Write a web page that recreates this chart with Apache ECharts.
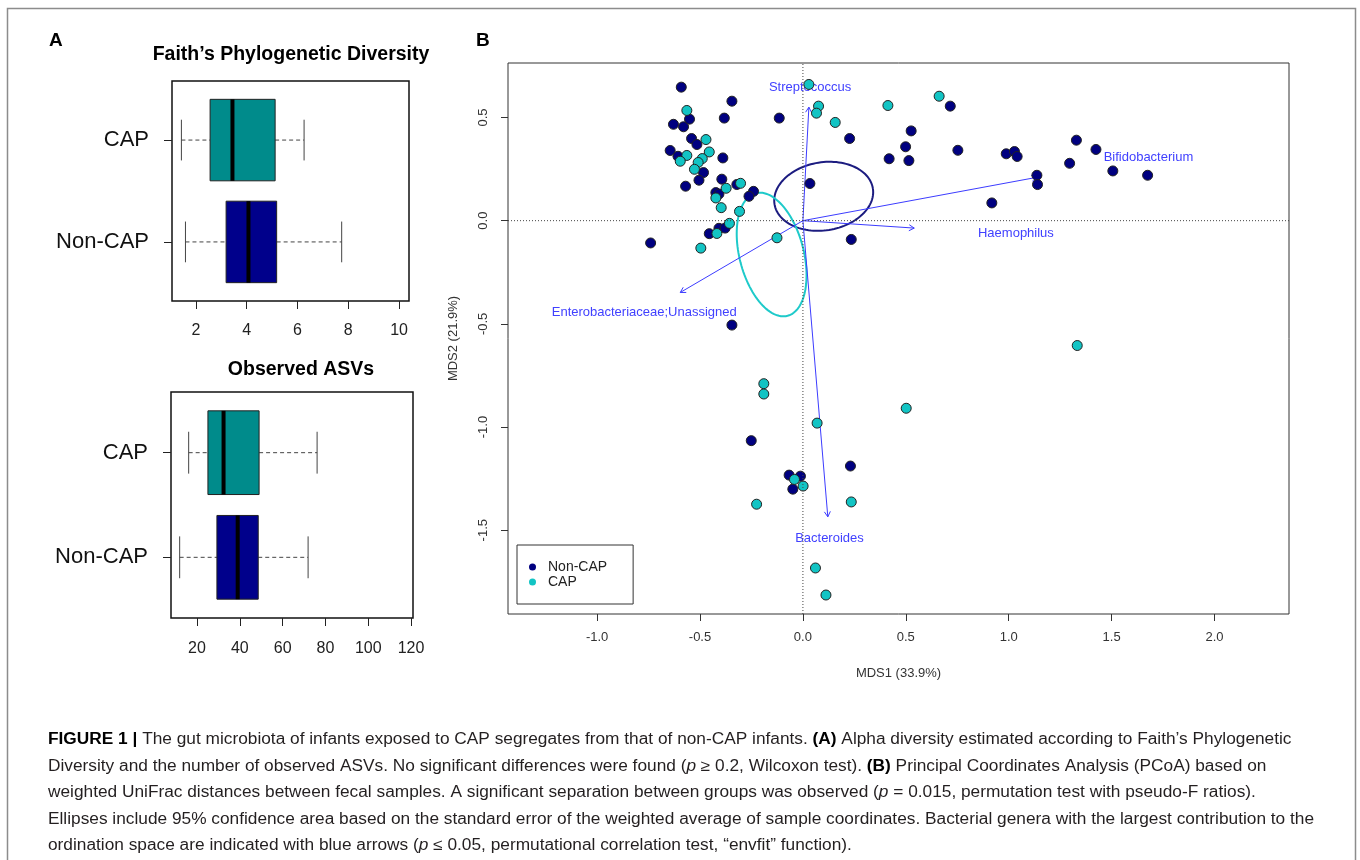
<!DOCTYPE html>
<html>
<head>
<meta charset="utf-8">
<title>Figure 1</title>
<script src="https://cdn.jsdelivr.net/npm/echarts@6/dist/echarts.min.js"></script>
<style>
    html, body { margin: 0; padding: 0; background: #fff; }
    #chart { width: 1360px; height: 860px; }
</style>
</head>
<body>
<div id="chart"></div>
<script>
// ---------- panel A : alpha diversity ----------
// group positions 1 = Non-CAP (bottom), 2 = CAP (top), as R draws them
var groups = ['Non-CAP', 'CAP'];
var groupColors = ['#00008B', '#008B8B'];
// [lower whisker, Q1, median, Q3, upper whisker]
var faithNonCap = [1.59, 3.19, 4.07, 5.18, 7.74];
var faithCap = [1.43, 2.56, 3.44, 5.12, 6.26];
var faithOutliers = [[10.02, 2]];
var asvNonCap = [11.9, 29.3, 39.0, 48.6, 71.9];
var asvCap = [16.1, 25.1, 32.4, 49.0, 76.1];
var asvOutliers = [[116.9, 2], [85.9, 1]];
var faithTicks = [2, 4, 6, 8, 10];
var asvTicks = [20, 40, 60, 80, 100, 120];

// ---------- panel B : PCoA ----------
var mdsTicksX = [-1.0, -0.5, 0.0, 0.5, 1.0, 1.5, 2.0];
var mdsTicksY = [-1.5, -1.0, -0.5, 0.0, 0.5];
var nonCapPoints = [
    [-0.591, 0.647], [-0.629, 0.467], [-0.580, 0.455], [-0.551, 0.492], [-0.345, 0.579],
    [-0.382, 0.497], [-0.115, 0.497], [-0.541, 0.398], [-0.515, 0.369], [-0.645, 0.340],
    [-0.607, 0.312], [-0.389, 0.304], [-0.483, 0.233], [-0.505, 0.196], [-0.394, 0.201],
    [-0.570, 0.167], [-0.423, 0.136], [-0.408, 0.129], [-0.321, 0.175], [-0.240, 0.142],
    [-0.262, 0.118], [0.034, 0.180], [0.227, 0.398], [0.235, -0.091], [-0.408, -0.037],
    [-0.378, -0.036], [-0.455, -0.063], [-0.740, -0.108], [-0.345, -0.506],
    [0.716, 0.555], [0.526, 0.435], [0.499, 0.358], [0.419, 0.300], [0.515, 0.291],
    [0.753, 0.341], [0.988, 0.324], [1.028, 0.335], [1.041, 0.311], [1.329, 0.390],
    [1.424, 0.345], [1.296, 0.278], [1.506, 0.241], [1.675, 0.220], [1.137, 0.220],
    [1.140, 0.175], [0.918, 0.086],
    [-0.251, -1.066], [-0.067, -1.233], [-0.012, -1.238], [-0.049, -1.301], [0.231, -1.189]
];
var capPoints = [
    [0.029, 0.660], [0.076, 0.555], [0.066, 0.521], [0.157, 0.476], [-0.564, 0.534],
    [-0.564, 0.316], [-0.596, 0.288], [-0.471, 0.393], [-0.455, 0.333], [-0.489, 0.301],
    [-0.509, 0.282], [-0.527, 0.249], [-0.303, 0.181], [-0.373, 0.157], [-0.423, 0.110],
    [-0.397, 0.063], [-0.308, 0.045], [-0.357, -0.013], [-0.418, -0.062], [-0.496, -0.133],
    [-0.126, -0.083], [0.413, 0.558], [0.662, 0.603],
    [-0.190, -0.790], [-0.190, -0.840], [0.069, -0.981], [0.502, -0.909], [-0.041, -1.254],
    [0.001, -1.286], [-0.225, -1.374], [0.235, -1.363], [0.061, -1.683], [0.112, -1.814],
    [1.333, -0.605]
];
var genera = ['Streptococcus', 'Enterobacteriaceae;Unassigned', 'Bifidobacterium', 'Haemophilus', 'Bacteroides'];
var arrowTips = [[0.029, 0.550], [-0.596, -0.348], [1.137, 0.210], [0.541, -0.036], [0.121, -1.435]];
var arrowLabelPos = [[0.035, 0.647], [-0.771, -0.445], [1.679, 0.307], [1.035, -0.061], [0.129, -1.540]];
// [centre x, centre y, semi-axis a, semi-axis b, rotation in degrees]
var ellipseNonCap = [0.101, 0.118, 0.242, 0.165, 9];
var ellipseCap = [-0.152, -0.164, 0.307, 0.156, 104.6];

var captionLines = [
    '{b|FIGURE 1 |} The gut microbiota of infants exposed to CAP segregates from that of non-CAP infants. {b|(A)} Alpha diversity estimated according to Faith\u2019s Phylogenetic',
    'Diversity and the number of observed ASVs. No significant differences were found ({i|p} \u2265 0.2, Wilcoxon test). {b|(B)} Principal Coordinates Analysis (PCoA) based on',
    'weighted UniFrac distances between fecal samples. A significant separation between groups was observed ({i|p} = 0.015, permutation test with pseudo-F ratios).',
    'Ellipses include 95% confidence area based on the standard error of the weighted average of sample coordinates. Bacterial genera with the largest contribution to the',
    'ordination space are indicated with blue arrows ({i|p} \u2264 0.05, permutational correlation test, \u201cenvfit\u201d function).'
];

var FONT = 'Liberation Sans, Arial, sans-serif';
var xRangeB = [-1.433, 2.362];
var yRangeB = [-1.906, 0.764];
var BOX_HALF = 0.4;
var CAP_HALF = 0.2;
// caption layout: line centres, printed font is a little wider than Liberation Sans
var captionY = [739.5, 766.5, 793, 820, 846];
var CAPTION_STRETCH = 1.08;

var chart = echarts.init(document.getElementById('chart'));

//箱线图
function renderBox(params, api) {
    var pos = api.value(0);
    var lo = api.value(1), q1 = api.value(2), md = api.value(3), q3 = api.value(4), hi = api.value(5);
    var c = function (v, d) { return api.coord([v, pos + d]); };
    var tl = c(q1, BOX_HALF), br = c(q3, -BOX_HALF);
    var whisker = { stroke: '#444', lineWidth: 1, lineDash: [4, 3] };
    var line = function (a, b, style) {
        return { type: 'line', shape: { x1: a[0], y1: a[1], x2: b[0], y2: b[1] }, style: style };
    };
    return {
        type: 'group',
        children: [
            line(c(lo, 0), c(q1, 0), whisker),
            line(c(q3, 0), c(hi, 0), whisker),
            line(c(lo, CAP_HALF), c(lo, -CAP_HALF), { stroke: '#444', lineWidth: 1 }),
            line(c(hi, CAP_HALF), c(hi, -CAP_HALF), { stroke: '#444', lineWidth: 1 }),
            {
                type: 'rect',
                shape: { x: tl[0], y: tl[1], width: br[0] - tl[0], height: br[1] - tl[1] },
                style: { fill: groupColors[params.dataIndex], stroke: '#222', lineWidth: 1 }
            },
            line(c(md, BOX_HALF), c(md, -BOX_HALF), { stroke: '#000', lineWidth: 4 })
        ]
    };
}

//置信椭圆
function ellipseRenderer(color) {
    return function (params, api) {
        var cx = api.value(0), cy = api.value(1), a = api.value(2), b = api.value(3);
        var rot = api.value(4) * Math.PI / 180;
        var pts = [];
        for (var k = 0; k <= 120; k++) {
            var t = 2 * Math.PI * k / 120;
            var ex = a * Math.cos(t), ey = b * Math.sin(t);
            pts.push(api.coord([
                cx + ex * Math.cos(rot) - ey * Math.sin(rot),
                cy + ex * Math.sin(rot) + ey * Math.cos(rot)
            ]));
        }
        return { type: 'polyline', shape: { points: pts }, style: { stroke: color, lineWidth: 2, fill: null } };
    };
}

//envfit 箭头
function renderArrow(params, api) {
    var o = api.coord([0, 0]);
    var p = api.coord([api.value(0), api.value(1)]);
    var ang = Math.atan2(p[1] - o[1], p[0] - o[0]);
    var L = 6, spread = Math.PI / 6;
    var h1 = [p[0] - L * Math.cos(ang - spread), p[1] - L * Math.sin(ang - spread)];
    var h2 = [p[0] - L * Math.cos(ang + spread), p[1] - L * Math.sin(ang + spread)];
    var st = { stroke: '#3c3cff', lineWidth: 1, fill: null };
    return {
        type: 'group',
        children: [
            { type: 'line', shape: { x1: o[0], y1: o[1], x2: p[0], y2: p[1] }, style: st },
            { type: 'polyline', shape: { points: [h1, p, h2] }, style: st }
        ]
    };
}

function renderGenusLabel(params, api) {
    var p = api.coord([api.value(0), api.value(1)]);
    return {
        type: 'text', x: p[0], y: p[1],
        style: {
            text: genera[params.dataIndex], fill: '#4141ff', fontSize: 13, fontFamily: FONT,
            align: 'center', verticalAlign: 'middle'
        }
    };
}

function boxXAxis(idx, min, max, ticks, margin) {
    return {
        type: 'value', gridIndex: idx, min: min, max: max,
        axisLine: { show: false, onZero: false },
        splitLine: { show: false },
        axisTick: { show: true, customValues: ticks, length: 8, lineStyle: { color: '#222', width: 1 } },
        axisLabel: { customValues: ticks, fontSize: 16, color: '#222', fontFamily: FONT, margin: margin }
    };
}
function boxYAxis(idx) {
    return {
        type: 'value', gridIndex: idx, min: 0.42, max: 2.58,
        axisLine: { show: false, onZero: false },
        splitLine: { show: false },
        axisTick: { show: true, customValues: [1, 2], length: 8, lineStyle: { color: '#222', width: 1 } },
        axisLabel: {
            customValues: [1, 2], fontSize: 22, color: '#111', fontFamily: FONT, margin: 23,
            formatter: function (v) { return groups[Math.round(v) - 1]; }
        }
    };
}

var gridBorder = { show: true, borderColor: '#111', borderWidth: 1.5, outerBoundsMode: 'none' };

var graphics = [
    { type: 'rect', shape: { x: 7.5, y: 8.5, width: 1348, height: 900 }, style: { fill: null, stroke: '#8c8c8c', lineWidth: 1.5 } },
    { type: 'text', x: 49, y: 41, style: { text: 'A', fontSize: 19, fontWeight: 'bold', fontFamily: FONT, fill: '#000', verticalAlign: 'middle' } },
    { type: 'text', x: 476, y: 41, style: { text: 'B', fontSize: 19, fontWeight: 'bold', fontFamily: FONT, fill: '#000', verticalAlign: 'middle' } },
    { type: 'text', x: 291, y: 55, style: { text: 'Faith\u2019s Phylogenetic Diversity', fontSize: 19.5, fontWeight: 'bold', fontFamily: FONT, fill: '#000', align: 'center', verticalAlign: 'middle' } },
    { type: 'text', x: 301, y: 370, style: { text: 'Observed ASVs', fontSize: 19.5, fontWeight: 'bold', fontFamily: FONT, fill: '#000', align: 'center', verticalAlign: 'middle' } }
];
captionLines.forEach(function (txt, i) {
    graphics.push({
        type: 'text', x: 48, y: captionY[i], scaleX: CAPTION_STRETCH,
        style: {
            text: txt, fontSize: 16, fontFamily: FONT, fill: '#231f20', verticalAlign: 'middle',
            rich: {
                b: { fontSize: 16, fontFamily: FONT, fontWeight: 'bold', fill: '#000' },
                i: { fontSize: 16, fontFamily: FONT, fontStyle: 'italic', fill: '#231f20' }
            }
        }
    });
});

var option = {
    backgroundColor: '#fff',
    animation: false,
    textStyle: { fontFamily: FONT },
    graphic: graphics,
    legend: {
        data: ['Non-CAP', 'CAP'],
        orient: 'vertical', left: 517, top: 545,
        icon: 'circle', itemWidth: 7, itemHeight: 7, itemGap: 1,
        padding: [15, 26, 15, 12],
        borderColor: '#333', borderWidth: 1,
        itemStyle: { borderWidth: 0 },
        textStyle: { fontSize: 14, color: '#222', fontFamily: FONT, padding: [0, 0, 0, 7] },
        selectedMode: false
    },
    grid: [
        Object.assign({ left: 172, top: 81, width: 237, height: 220 }, gridBorder),
        Object.assign({ left: 171, top: 392, width: 242, height: 226 }, gridBorder),
        Object.assign({ left: 508, top: 63, width: 781, height: 551 }, gridBorder, { borderColor: '#333', borderWidth: 1 })
    ],
    xAxis: [
        boxXAxis(0, 1.06, 10.39, faithTicks, 22),
        boxXAxis(1, 7.85, 120.9, asvTicks, 23),
        {
            type: 'value', gridIndex: 2, min: xRangeB[0], max: xRangeB[1],
            axisLine: { show: false, onZero: false }, splitLine: { show: false },
            axisTick: { show: true, customValues: mdsTicksX, length: 7, lineStyle: { color: '#333' } },
            axisLabel: {
                customValues: mdsTicksX, fontSize: 13, color: '#333', fontFamily: FONT, margin: 17,
                formatter: function (v) { return v.toFixed(1); }
            },
            name: 'MDS1 (33.9%)', nameLocation: 'middle', nameGap: 53,
            nameTextStyle: { fontSize: 13, color: '#333', fontFamily: FONT }
        }
    ],
    yAxis: [
        boxYAxis(0),
        boxYAxis(1),
        {
            type: 'value', gridIndex: 2, min: yRangeB[0], max: yRangeB[1],
            axisLine: { show: false, onZero: false }, splitLine: { show: false },
            axisTick: { show: true, customValues: mdsTicksY, length: 7, lineStyle: { color: '#333' } },
            axisLabel: {
                customValues: mdsTicksY, fontSize: 13, color: '#333', fontFamily: FONT, margin: 18, rotate: 90,
                formatter: function (v) { return v.toFixed(1); }
            },
            name: 'MDS2 (21.9%)', nameLocation: 'middle', nameGap: 48, nameRotate: 90,
            nameTextStyle: { fontSize: 13, color: '#333', fontFamily: FONT }
        }
    ],
    series: [
        {
            name: 'faith-box', type: 'custom', xAxisIndex: 0, yAxisIndex: 0,
            renderItem: renderBox, encode: { x: [1, 2, 3, 4, 5], y: 0 },
            data: [[1].concat(faithNonCap), [2].concat(faithCap)], silent: true
        },
        {
            name: 'faith-out', type: 'scatter', xAxisIndex: 0, yAxisIndex: 0,
            symbol: 'emptyCircle', symbolSize: 6, data: faithOutliers, silent: true,
            itemStyle: { color: '#fff', borderColor: '#444', borderWidth: 1 }
        },
        {
            name: 'asv-box', type: 'custom', xAxisIndex: 1, yAxisIndex: 1,
            renderItem: renderBox, encode: { x: [1, 2, 3, 4, 5], y: 0 },
            data: [[1].concat(asvNonCap), [2].concat(asvCap)], silent: true
        },
        {
            name: 'asv-out', type: 'scatter', xAxisIndex: 1, yAxisIndex: 1,
            symbol: 'emptyCircle', symbolSize: 6, data: asvOutliers, silent: true,
            itemStyle: { color: '#fff', borderColor: '#444', borderWidth: 1 }
        },
        {
            name: 'zero-v', type: 'line', xAxisIndex: 2, yAxisIndex: 2, symbol: 'none', silent: true,
            data: [[0, yRangeB[0]], [0, yRangeB[1]]],
            lineStyle: { color: '#444', width: 1, type: [1, 2] }
        },
        {
            name: 'zero-h', type: 'line', xAxisIndex: 2, yAxisIndex: 2, symbol: 'none', silent: true,
            data: [[xRangeB[0], 0], [xRangeB[1], 0]],
            lineStyle: { color: '#444', width: 1, type: [1, 2] }
        },
        {
            name: 'Non-CAP', type: 'scatter', xAxisIndex: 2, yAxisIndex: 2, symbolSize: 10,
            data: nonCapPoints, silent: true,
            itemStyle: { color: '#000080', borderColor: '#222', borderWidth: 1, opacity: 1 }
        },
        {
            name: 'CAP', type: 'scatter', xAxisIndex: 2, yAxisIndex: 2, symbolSize: 10,
            data: capPoints, silent: true,
            itemStyle: { color: '#12c4c4', borderColor: '#222', borderWidth: 1, opacity: 1 }
        },
        {
            name: 'ell-noncap', type: 'custom', xAxisIndex: 2, yAxisIndex: 2, silent: true,
            renderItem: ellipseRenderer('#1c1c80'), encode: { x: 0, y: 1 }, data: [ellipseNonCap]
        },
        {
            name: 'ell-cap', type: 'custom', xAxisIndex: 2, yAxisIndex: 2, silent: true,
            renderItem: ellipseRenderer('#1ecaca'), encode: { x: 0, y: 1 }, data: [ellipseCap]
        },
        {
            name: 'arrows', type: 'custom', xAxisIndex: 2, yAxisIndex: 2, silent: true,
            renderItem: renderArrow, encode: { x: 0, y: 1 }, data: arrowTips
        },
        {
            name: 'arrow-labels', type: 'custom', xAxisIndex: 2, yAxisIndex: 2, silent: true,
            renderItem: renderGenusLabel, encode: { x: 0, y: 1 }, data: arrowLabelPos
        }
    ]
};
chart.setOption(option);
</script>
</body>
</html>
